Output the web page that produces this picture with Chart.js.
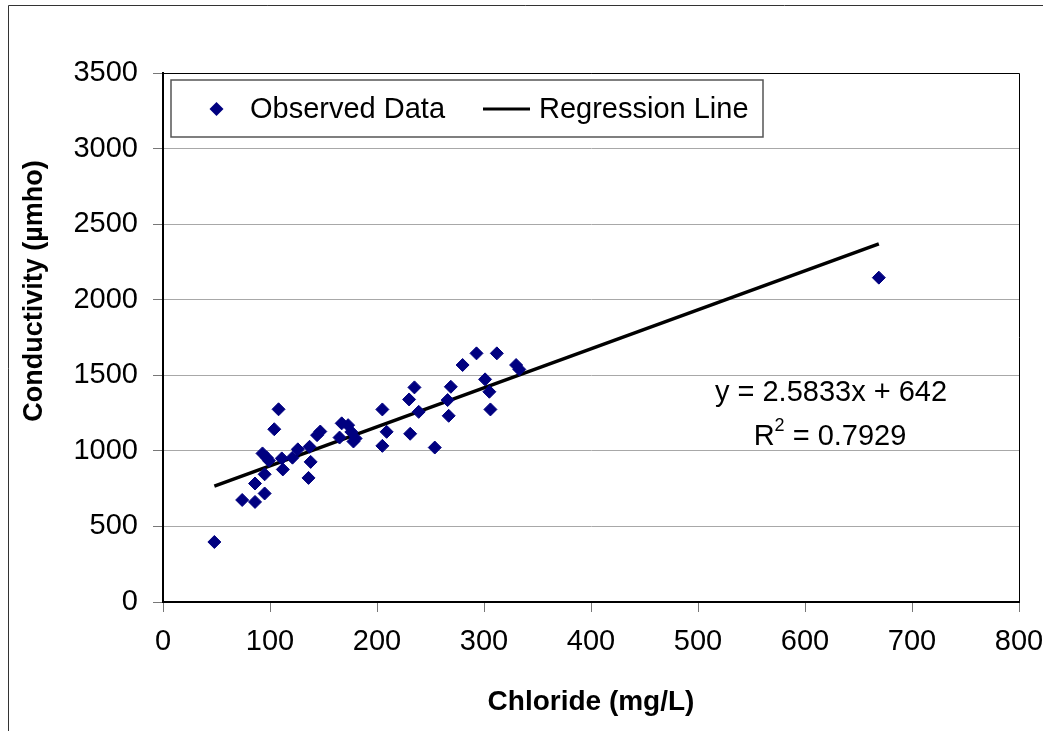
<!DOCTYPE html>
<html>
<head>
<meta charset="utf-8">
<script src="https://cdn.jsdelivr.net/npm/chart.js@4.4.1/dist/chart.umd.min.js"></script>
<style>
  html, body { margin: 0; padding: 0; background: #fff; }
  #wrap { width: 1047px; height: 731px; }
</style>
</head>
<body>
<div id="wrap"><canvas id="chloChart" width="1047" height="731"></canvas></div>
<script>
// chloride (mg/L) vs conductivity (umho)
const chloride = [48, 74, 86, 86, 95, 95, 93, 97, 99, 104, 108, 112, 111, 121, 126, 137, 138, 136,
    144, 147, 167, 173, 165, 176, 178, 180, 205, 209, 205, 230, 235, 239, 231, 254, 269, 266, 267,
    280, 293, 312, 301, 305, 306, 330, 333, 669];
const conductivity = [397, 675, 662, 784, 718, 845, 983, 955, 935, 1143, 1275, 877, 950, 955, 1010, 1027, 927, 821,
    1104, 1128, 1182, 1170, 1088, 1125, 1062, 1082, 1274, 1126, 1033, 1340, 1420, 1258, 1113, 1022, 1424, 1336, 1232,
    1568, 1645, 1645, 1473, 1391, 1274, 1568, 1539, 2146];

const lineX = [48, 669];
const lineY = [766, 2370];

const xTicks = [0, 100, 200, 300, 400, 500, 600, 700, 800];
const yTicks = [0, 500, 1000, 1500, 2000, 2500, 3000, 3500];

const FONT = "'Liberation Sans', Arial, sans-serif";

function toPoints(xs, ys) {
    let pts = [];
    for (let i in xs) {
        pts.push({x: xs[i], y: ys[i]});
    }
    return pts;
}

const decorPlugin = {
    id: 'decor',
    afterDraw(chart) {
        const ctx = chart.ctx;
        const a = chart.chartArea;
        ctx.save();
        // outer frame (only top and left are inside the picture)
        ctx.strokeStyle = '#333';
        ctx.lineWidth = 1;
        ctx.beginPath();
        ctx.moveTo(8.5, 731);
        ctx.lineTo(8.5, 5.5);
        ctx.lineTo(1043, 5.5);
        ctx.stroke();
        // top and right edges of the plot area
        ctx.strokeStyle = '#000';
        ctx.beginPath();
        ctx.moveTo(a.left, a.top + 0.5);
        ctx.lineTo(a.right + 0.5, a.top + 0.5);
        ctx.lineTo(a.right + 0.5, a.bottom);
        ctx.stroke();

        // y axis title
        ctx.save();
        ctx.translate(35, 291);
        ctx.rotate(-Math.PI / 2);
        ctx.fillStyle = '#000';
        ctx.font = 'bold 27px ' + FONT;
        ctx.textAlign = 'center';
        ctx.textBaseline = 'middle';
        ctx.fillText('Conductivity (µmho)', 0, 0);
        ctx.restore();

        // legend
        ctx.fillStyle = '#fff';
        ctx.fillRect(171, 80, 592, 57);
        ctx.strokeStyle = '#555';
        ctx.lineWidth = 1.5;
        ctx.strokeRect(171, 80, 592, 57);
        ctx.fillStyle = '#000080';
        ctx.beginPath();
        ctx.moveTo(209.5, 109); ctx.lineTo(216.5, 102); ctx.lineTo(223.5, 109); ctx.lineTo(216.5, 116);
        ctx.closePath();
        ctx.fill();
        ctx.fillStyle = '#000';
        ctx.font = '29px ' + FONT;
        ctx.textBaseline = 'middle';
        ctx.textAlign = 'left';
        ctx.fillText('Observed Data', 250, 110);
        ctx.fillText('Regression Line', 539, 110);
        ctx.lineWidth = 3;
        ctx.strokeStyle = '#000';
        ctx.beginPath();
        ctx.moveTo(483, 109);
        ctx.lineTo(530, 109);
        ctx.stroke();

        // regression equation
        ctx.textAlign = 'center';
        ctx.fillText('y = 2.5833x + 642', 831, 393);
        const rest = ' = 0.7929';
        const wR = ctx.measureText('R').width;
        const wRest = ctx.measureText(rest).width;
        ctx.font = '18px ' + FONT;
        const w2 = ctx.measureText('2').width;
        let x0 = 830 - (wR + w2 + wRest) / 2;
        ctx.textAlign = 'left';
        ctx.font = '29px ' + FONT;
        ctx.fillText('R', x0, 437);
        ctx.font = '18px ' + FONT;
        ctx.fillText('2', x0 + wR, 426);
        ctx.font = '29px ' + FONT;
        ctx.fillText(rest, x0 + wR + w2, 437);
        ctx.restore();
    }
};

const ctx = document.getElementById('chloChart');
const myChart = new Chart(ctx, {
    type: 'scatter',
    data: {
        datasets: [{
            label: 'Observed Data',
            data: toPoints(chloride, conductivity),
            pointStyle: 'rectRot',
            pointRadius: 6.5,
            pointHoverRadius: 6.5,
            backgroundColor: '#000080',
            borderColor: '#000080',
            borderWidth: 1
        }, {
            label: 'Regression Line',
            data: toPoints(lineX, lineY),
            showLine: true,
            pointRadius: 0,
            borderColor: '#000',
            borderWidth: 3.5
        }]
    },
    plugins: [decorPlugin],
    options: {
        responsive: false,
        animation: false,
        events: [],
        layout: {
            padding: {left: 0, top: 73, right: 28, bottom: 0}
        },
        scales: {
            x: {
                type: 'linear',
                min: 0,
                max: 800,
                afterBuildTicks: function(scale) {
                    scale.ticks = xTicks.map(v => ({value: v}));
                },
                afterFit: function(scale) {
                    scale.height = 129;
                    scale.paddingLeft = 0;
                    scale.paddingRight = 0;
                },
                grid: {
                    drawOnChartArea: false,
                    tickLength: 10,
                    tickColor: '#777'
                },
                border: {color: '#000', width: 2},
                ticks: {
                    color: '#000',
                    padding: 13,
                    maxRotation: 0,
                    callback: v => String(v),
                    font: {family: FONT, size: 29}
                },
                title: {
                    display: true,
                    text: 'Chloride (mg/L)',
                    color: '#000',
                    padding: {top: 0, bottom: 12},
                    font: {family: FONT, size: 28, weight: 'bold'}
                }
            },
            y: {
                type: 'linear',
                min: 0,
                max: 3500,
                afterBuildTicks: function(scale) {
                    scale.ticks = yTicks.map(v => ({value: v}));
                },
                afterFit: function(scale) {
                    scale.width = 163;
                    scale.paddingTop = 0;
                    scale.paddingBottom = 0;
                },
                grid: {
                    color: '#a8a8a8',
                    tickLength: 10,
                    tickColor: '#777'
                },
                border: {color: '#000', width: 2},
                ticks: {
                    color: '#000',
                    padding: 15,
                    callback: v => String(v),
                    font: {family: FONT, size: 29}
                }
            }
        },
        plugins: {
            legend: {display: false},
            tooltip: {enabled: false}
        }
    }
});
</script>
</body>
</html>
